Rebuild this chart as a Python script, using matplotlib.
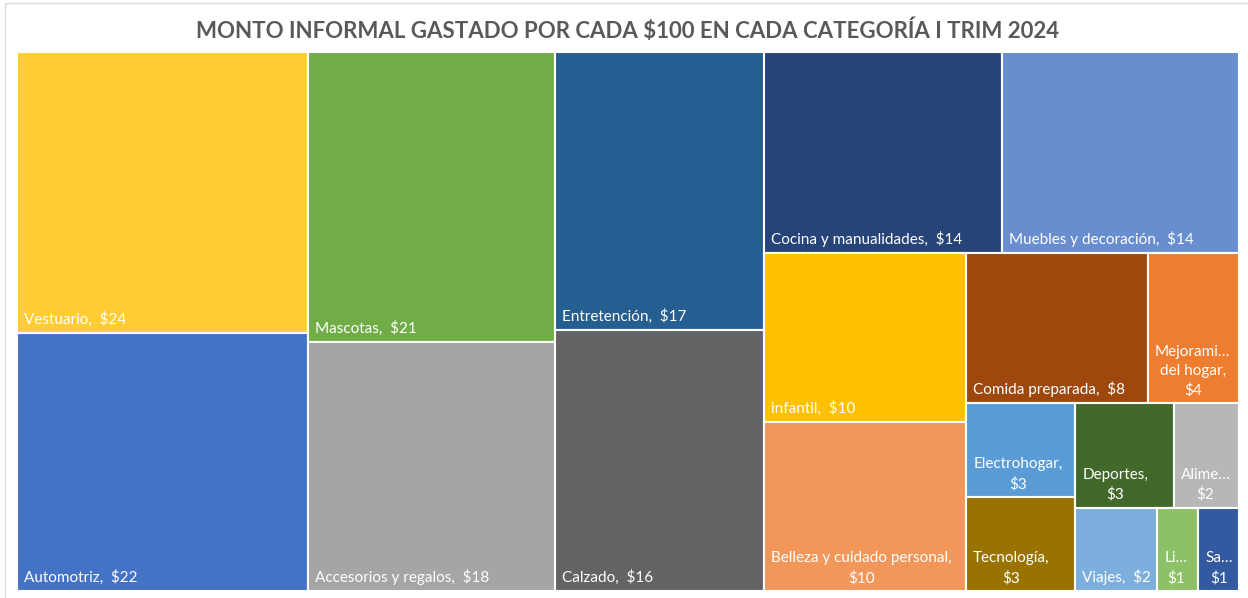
import matplotlib.pyplot as plt
from matplotlib.patches import Rectangle

plt.rcParams['font.family'] = ['Lato', 'DejaVu Sans']

# Categories and values (monto por cada $100), in the order Excel lays them out
categorias = ["Vestuario", "Automotriz", "Mascotas", "Accesorios y regalos",
              "Entretención", "Calzado", "Cocina y manualidades",
              "Muebles y decoración", "infantil", "Belleza y cuidado personal",
              "Comida preparada", "Mejorami…\ndel hogar", "Electrohogar",
              "Tecnología", "Deportes", "Alime…", "Viajes", "Li…", "Sa…"]
valores = [24, 22, 21, 18, 17, 16, 14, 14, 10, 10, 8, 4, 3, 3, 3, 2, 2, 1, 1]
colores = ["#FFCD33", "#4472C4", "#70AD47", "#A5A5A5", "#255E91", "#636363",
           "#264478", "#698ED0", "#FFC000", "#F1975A", "#9E480E", "#ED7D31",
           "#5B9BD5", "#997300", "#43682B", "#B7B7B7", "#7CAFDD", "#8CC168",
           "#335AA1"]
titulo = "MONTO INFORMAL GASTADO POR CADA $100 EN CADA CATEGORÍA I TRIM 2024"


def worst(row, side):
    s = sum(row)
    return max(max(side * side * r / (s * s), (s * s) / (side * side * r)) for r in row)


def squarify(vals, x, y, w, h):
    total = sum(vals)
    areas = [v * w * h / total for v in vals]
    rects = []
    while areas:
        side = min(w, h)
        row = [areas[0]]
        i = 1
        while i < len(areas) and worst(row + [areas[i]], side) <= worst(row, side) * 1.05:
            row.append(areas[i])
            i += 1
        s = sum(row)
        if w >= h:
            cw = s / h
            yy = y
            for a in row:
                rh = a / cw
                rects.append((x, yy, cw, rh))
                yy += rh
            x += cw
            w -= cw
        else:
            rh = s / w
            xx = x
            for a in row:
                cw = a / rh
                rects.append((xx, y, cw, rh))
                xx += cw
            y += rh
            h -= rh
        areas = areas[i:]
    return rects


W, H = 1248, 598
fig = plt.figure(figsize=(W / 100, H / 100), dpi=100)

# light chart border (cut off at right/bottom like the screenshot)
fig.patches.append(Rectangle((5 / W, -0.05), 1.2, 1 - 3 / H + 0.05,
                             transform=fig.transFigure, fill=False,
                             edgecolor="#D9D9D9", linewidth=1))

left, right, top, bottom = 17, 1239, 52, 591
ax = fig.add_axes([left / W, 1 - bottom / H, (right - left) / W, (bottom - top) / H])
pw, ph = right - left, bottom - top
ax.set_xlim(0, pw)
ax.set_ylim(ph, 0)
ax.axis("off")

rects = squarify(valores, 0, 0, pw, ph)
renderer = fig.canvas.get_renderer()
for (x, y, w, h), nombre, v, c in zip(rects, categorias, valores, colores):
    ax.add_patch(Rectangle((x, y), w, h, facecolor=c, edgecolor="white", linewidth=1.5))
    sep = "" if nombre.endswith("…") else ","
    t = ax.text(x + 7, y + h - 6, f"{nombre}{sep}  ${v}", color="white", fontsize=11,
                ha="left", va="bottom", linespacing=1.45)
    tw = t.get_window_extent(renderer).width
    if "\n" in nombre or nombre.endswith("…") or tw > w - 12:
        t.set_text(f"{nombre}{sep}\n${v}")
        t.set_multialignment("center")

fig.text(0.503, 1 - 30 / H, titulo, ha="center", va="center", fontsize=16,
         fontweight="bold", color="#595959")

plt.savefig("out.png", dpi=100)
